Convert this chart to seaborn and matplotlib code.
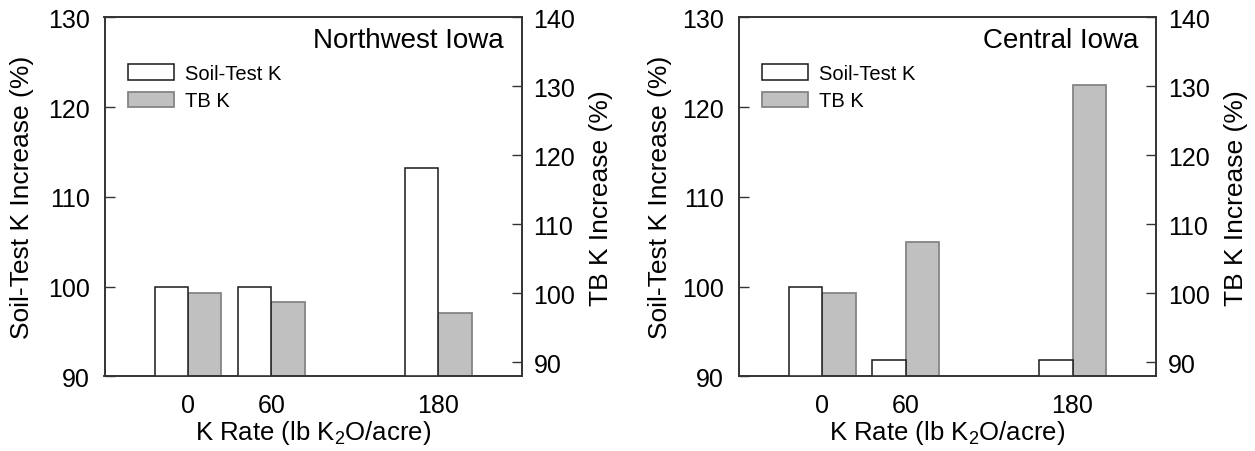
import numpy as np
import pandas as pd
import matplotlib
matplotlib.use("Agg")
import matplotlib.pyplot as plt
from matplotlib.patches import Patch
import seaborn as sns

# ---- data ----
k_rate = [0, 60, 180]
nw_soil_test_k = [100.0, 99.9, 113.2]
nw_tb_k = [100.0, 98.8, 97.1]
c_soil_test_k = [100.0, 91.8, 91.8]
c_tb_k = [100.0, 107.4, 130.2]
panel_titles = ["Northwest Iowa", "Central Iowa"]
series_names = ["Soil-Test K", "TB K"]
x_ticks = [0, 60, 180]
left_ticks = [90, 100, 110, 120, 130]
right_ticks = [90, 100, 110, 120, 130, 140]

sns.set_theme(style="white")
plt.rcParams["font.family"] = ["Liberation Sans", "DejaVu Sans"]
plt.rcParams["mathtext.fontset"] = "custom"
plt.rcParams["mathtext.rm"] = "Liberation Sans"
plt.rcParams["mathtext.it"] = "Liberation Sans"
plt.rcParams["text.color"] = "black"
plt.rcParams["axes.labelcolor"] = "black"

W, H = 1255, 452
fig = plt.figure(figsize=(W / 100, H / 100), dpi=100)

axes_px = [(104.5, 521.7), (738.7, 1156.0)]
top_px, bot_px = 18.3, 377.3
left_label_pad = [10, 7.5]

soil_face = "white"
soil_edge = "#1a1a1a"
tb_face = "#c0c0c0"
tb_edge = "#858585"
spine_c = "#333333"
TICK_FS = 18
LAB_FS = 18.5

datasets = [(nw_soil_test_k, nw_tb_k), (c_soil_test_k, c_tb_k)]

for i, ((x0, x1), (soil, tb)) in enumerate(zip(axes_px, datasets)):
    ax = fig.add_axes([x0 / W, 1 - bot_px / H, (x1 - x0) / W, (bot_px - top_px) / H])
    ax2 = ax.twinx()
    rate = np.array(k_rate, dtype=float)
    half = 12.0
    df_soil = pd.DataFrame({"x": rate - half, "y": soil})
    df_tb = pd.DataFrame({"x": rate + half, "y": tb})
    sns.barplot(data=df_soil, x="x", y="y", native_scale=True, width=0.4,
                color=soil_face, edgecolor=soil_edge, linewidth=1.1,
                errorbar=None, ax=ax, saturation=1)
    for p in ax.patches:
        p.set_facecolor(soil_face)
    sns.barplot(data=df_tb, x="x", y="y", native_scale=True, width=0.4,
                color=tb_face, edgecolor=tb_edge, linewidth=1.3,
                errorbar=None, ax=ax2, saturation=1)
    for p in ax2.patches:
        p.set_facecolor(tb_face)

    ax.set_ylim(90, 130)
    ax2.set_ylim(88, 140)
    ax.set_xlim(-60, 240)
    ax.set_xticks(x_ticks)
    ax.set_xticklabels([str(v) for v in x_ticks])
    ax.set_yticks(left_ticks)
    ax2.set_yticks(right_ticks)
    ax.tick_params(axis="y", direction="in", length=7, width=1, colors=spine_c,
                   labelcolor="black", labelsize=TICK_FS, pad=10.5)
    ax2.tick_params(axis="y", direction="in", length=7, width=1, colors=spine_c,
                    labelcolor="black", labelsize=TICK_FS, pad=8.5)
    ax.tick_params(axis="x", length=0, labelsize=TICK_FS, pad=12, labelcolor="black")
    ax2.tick_params(axis="x", length=0)
    for a in (ax, ax2):
        for s in a.spines.values():
            s.set_color(spine_c)
            s.set_linewidth(1.2)
    ax.set_xlabel("K Rate (lb K$_2$O/acre)", fontsize=LAB_FS, labelpad=1)
    ax.set_ylabel("Soil-Test K Increase (%)", fontsize=19, labelpad=left_label_pad[i])
    ax2.set_ylabel("TB K Increase (%)", fontsize=19, labelpad=10)
    ax2.set_xlabel("")
    ax.text(0.957, 0.937, panel_titles[i], transform=ax.transAxes, ha="right",
            va="center", fontsize=20)
    handles = [Patch(facecolor=soil_face, edgecolor=soil_edge, linewidth=1.1),
               Patch(facecolor=tb_face, edgecolor=tb_edge, linewidth=1.3)]
    ax.legend(handles, series_names, loc="upper left", bbox_to_anchor=(0.056, 0.87),
              frameon=False, fontsize=14.5, handlelength=2.29, handleheight=0.8,
              handletextpad=0.55, labelspacing=0.42, borderpad=0, borderaxespad=0)
    ax.set_zorder(ax2.get_zorder() + 1)
    ax.patch.set_visible(False)

fig.savefig("out.png", dpi=100)
